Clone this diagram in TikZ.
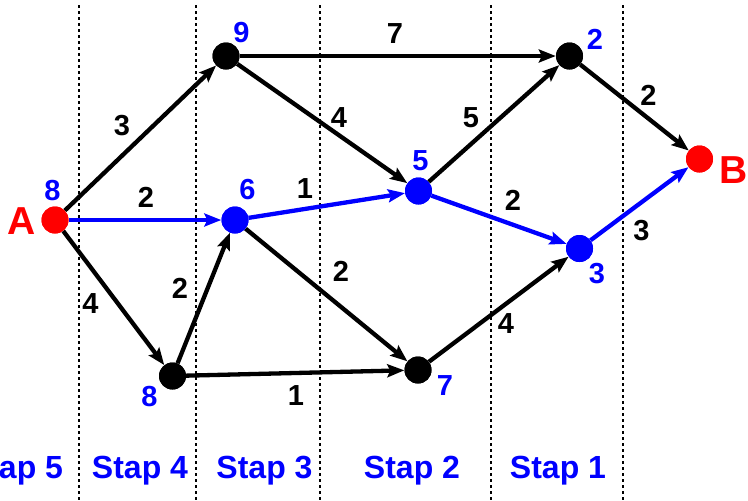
\documentclass[tikz,border=0pt]{standalone}
\usepackage{fontspec}
\setmainfont{Liberation Sans}
\usetikzlibrary{arrows.meta}
\definecolor{pblue}{RGB}{0,0,255}
\definecolor{pred}{RGB}{255,0,0}
\begin{document}
\begin{tikzpicture}[x=1pt,y=-1pt,
  vtx/.style={circle,fill=black,minimum size=27pt,inner sep=0pt},
  bvtx/.style={vtx,fill=pblue},
  rvtx/.style={vtx,fill=pred},
  edge/.style={line width=4.3pt,-{Stealth[length=17pt,width=13pt,inset=3pt]}},
  bedge/.style={edge,draw=pblue},
  wlab/.style={font=\fontsize{29}{29}\selectfont\bfseries,inner sep=0pt},
  vlab/.style={wlab,text=pblue},
  ablab/.style={font=\fontsize{39}{39}\selectfont\bfseries,inner sep=0pt,text=pred},
  steplab/.style={font=\fontsize{32}{32}\selectfont\bfseries,inner sep=0pt,text=pblue},
  sep/.style={line width=1.2pt,dash pattern=on 3pt off 3pt}
]
\useasboundingbox (0,0) rectangle (748,501);
\clip (0,0) rectangle (748,501);
% separators
\foreach \xx in {79,196,320,491,623}{
  \draw[sep] (\xx,5) -- (\xx,501);
}
% vertices
\node[rvtx] (A) at (55,220) {};
\node[vtx] (n9) at (226,56) {};
\node[bvtx] (n6) at (235,220) {};
\node[vtx] (n8) at (172.5,376) {};
\node[bvtx] (n5) at (418.5,191) {};
\node[vtx] (n7) at (418,370) {};
\node[vtx] (n2) at (569.5,56) {};
\node[bvtx] (n3) at (579.5,248.5) {};
\node[rvtx] (B) at (699.5,159) {};
% edges
\draw[edge] (n9) -- (n2);
\draw[edge] (A) -- (n9);
\draw[edge] (n9) -- (n5);
\draw[edge] (n5) -- (n2);
\draw[edge] (n2) -- (B);
\draw[edge] (A) -- (n8);
\draw[edge] (n8) -- (n6);
\draw[edge] (n6) -- (n7);
\draw[edge] (n8) -- (n7);
\draw[edge] (n7) -- (n3);
\draw[bedge] (A) -- (n6);
\draw[bedge] (n6) -- (n5);
\draw[bedge] (n5) -- (n3);
\draw[bedge] (n3) -- (B);
% redraw vertices on top
\node[rvtx] at (A) {};
\node[vtx] at (n9) {};
\node[bvtx] at (n6) {};
\node[vtx] at (n8) {};
\node[bvtx] at (n5) {};
\node[vtx] at (n7) {};
\node[vtx] at (n2) {};
\node[bvtx] at (n3) {};
\node[rvtx] at (B) {};
% vertex names
\node[ablab] (lA) at (21.5,221) {A};
\node[ablab] (lB) at (733.5,170) {B};
% vertex values
\node[vlab] (vA) at (52.5,191) {8};
\node[vlab] (v9) at (241.5,32.5) {9};
\node[vlab] (v6) at (247.5,190) {6};
\node[vlab] (v8) at (149.5,396.5) {8};
\node[vlab] (v5) at (420.5,161) {5};
\node[vlab] (v7) at (445,386) {7};
\node[vlab] (v2) at (595,39) {2};
\node[vlab] (v3) at (597,273.5) {3};
% edge weights
\node[wlab] (w92) at (395,34) {7};
\node[wlab] (wA9) at (122,126) {3};
\node[wlab] (wA6) at (146,197) {2};
\node[wlab] (w95) at (339,117.5) {4};
\node[wlab] (w65) at (305,188.5) {1};
\node[wlab] (w52) at (471,117.5) {5};
\node[wlab] (w2B) at (648.5,95) {2};
\node[wlab] (w53) at (513,200) {2};
\node[wlab] (w3B) at (641.5,231) {3};
\node[wlab] (wA8) at (90.5,304) {4};
\node[wlab] (w86) at (180,288.5) {2};
\node[wlab] (w67) at (341,271.5) {2};
\node[wlab] (w87) at (296,395.5) {1};
\node[wlab] (w73) at (506,323.5) {4};
% step labels
\node[steplab,anchor=base] (s5) at (15,478) {Stap 5};
\node[steplab,anchor=base] (s4) at (140,478) {Stap 4};
\node[steplab,anchor=base] (s3) at (264.5,478) {Stap 3};
\node[steplab,anchor=base] (s2) at (412,478) {Stap 2};
\node[steplab,anchor=base] (s1) at (558,478) {Stap 1};
\end{tikzpicture}
\end{document}
